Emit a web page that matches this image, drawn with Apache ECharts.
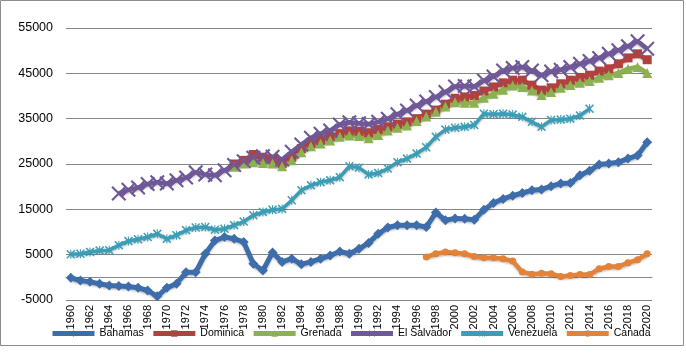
<!DOCTYPE html>
<html>
<head>
<meta charset="utf-8">
<script src="https://cdn.jsdelivr.net/npm/echarts@6/dist/echarts.min.js"></script>
<style>
  body { margin: 0; background: #fff; }
  #chart { width: 686px; height: 358px; }
</style>
</head>
<body>
<div id="chart"></div>
<script>
var firstYear = 1960;
var lastYear = 2020;
var years = [];
for (var y = firstYear; y <= lastYear; y++) years.push(String(y));

// values, each list starts at its first year
var bahamas = [-100, -700, -1000, -1400, -1800, -1900, -2000, -2300, -2900, -4200,
  -2300, -1400, 1100, 1100, 5200, 8100, 8900, 8500, 7800, 3000,
  1500, 5500, 3400, 4100, 2900, 3400, 4100, 4800, 5700, 5200,
  6300, 7600, 9600, 11000, 11500, 11500, 11500, 11100, 14300, 12600,
  13000, 12900, 12700, 14900, 16400, 17300, 18000, 18600, 19200, 19400,
  20100, 20700, 20800, 22500, 23500, 24900, 25100, 25400, 26200, 26900, 29800];
var dominica = [25000, 25800, 27100,
  26500, 26000, 25100, 26500, 28400, 29500, 30200, 31000, 31700, 32300,
  32200, 31900, 32600, 33200, 33800, 34300, 35000, 36000, 36900, 38200,
  39500, 39800, 40100, 41100, 42000, 42900, 43500, 43500, 42400, 41300,
  41800, 42700, 43500, 44100, 44600, 45500, 46000, 47100, 48400, 49300, 48000];
var grenada = [24400, 25100, 25400,
  25200, 25100, 24500, 25800, 27600, 28900, 29500, 30200, 31000, 31300,
  31200, 30700, 31400, 32400, 33000, 33500, 34500, 35500, 36500, 37700,
  38600, 38500, 38500, 39600, 40500, 41400, 42300, 42000, 41200, 40200,
  40900, 41800, 42400, 42900, 43300, 44000, 44600, 45100, 46000, 46400, 45100];
var elSalvador = [18500, 19300, 19800, 20600, 21000,
  20700, 21400, 22000, 23200, 22700, 22500, 23600, 24800, 25600, 26400,
  26700, 26600, 26000, 27700, 29300, 30800, 31700, 32400, 33700, 34200,
  34000, 33800, 34300, 35000, 36000, 36800, 37900, 38800, 39800, 40900,
  42100, 42200, 42100, 43400, 44300, 45600, 46200, 46400, 45600, 44600,
  45400, 45800, 46400, 47100, 47700, 48400, 49300, 50100, 51000, 52100, 50400];
var venezuela = [5100, 5200, 5600, 5900, 6000, 7100, 8000, 8400, 8900, 9600,
  8500, 9300, 10400, 11000, 11100, 10500, 10700, 11500, 12300, 13700,
  14400, 14900, 15100, 17000, 19200, 20300, 21000, 21400, 22100, 24500,
  24200, 22700, 23000, 24000, 25400, 26200, 27300, 28700, 31000, 32600,
  33000, 33200, 33600, 36100, 36000, 36100, 35900, 35400, 34300, 33200,
  34700, 34800, 35000, 35700, 37200];
var canada = [4500, 5200, 5600,
  5400, 5200, 4600, 4300, 4300, 4100, 3600, 1200, 700, 900,
  800, 200, 400, 600, 600, 1900, 2400, 2400, 3200, 3900, 5200];

var yTicks = { min: -5000, max: 55000, step: 10000 };

function onYears(start, vals) {
  var out = [];
  for (var i = firstYear; i <= lastYear; i++) {
    var k = i - start;
    out.push(k >= 0 && k < vals.length ? vals[k] : null);
  }
  return out;
}

var xMark = 'path://M0,1L1,0L5,4L9,0L10,1L6,5L10,9L9,10L5,6L1,10L0,9L4,5Z';
var starMark = 'path://M0,1.2L1.2,0L5,3.8L8.8,0L10,1.2L6.2,5L10,8.8L8.8,10L5,6.2L1.2,10L0,8.8L3.8,5Z M4.4,0L5.6,0L5.6,10L4.4,10Z';

function line(name, data, color, symbol, size, width) {
  return {
    name: name,
    type: 'line',
    data: data,
    symbol: symbol,
    symbolSize: size,
    showAllSymbol: true,
    connectNulls: false,
    lineStyle: { color: color, width: width, shadowColor: 'rgba(0,0,0,0.25)', shadowBlur: 2, shadowOffsetY: 1.5 },
    itemStyle: { color: color },
    emphasis: { disabled: true }
  };
}

var chart = echarts.init(document.getElementById('chart'));

var option = {
  animation: false,
  textStyle: { fontFamily: 'Liberation Sans' },
  grid: { left: 66, right: 34, top: 28, bottom: 58 },
  graphic: [{
    type: 'rect',
    shape: { x: 0.5, y: 0.5, width: 683, height: 345 },
    style: { fill: 'none', stroke: '#8c8c8c', lineWidth: 1 },
    silent: true
  }],
  legend: {
    top: 323,
    left: 45,
    itemWidth: 42,
    itemHeight: 8,
    itemGap: 7,
    lineStyle: { width: 5 },
    textStyle: { fontSize: 10.5, color: '#000', fontFamily: 'Liberation Sans' },
    data: ['Bahamas', 'Dominica', 'Grenada', 'El Salvador', 'Venezuela', 'Canada']
  },
  xAxis: {
    type: 'category',
    data: years,
    boundaryGap: true,
    axisLine: { onZero: true, lineStyle: { color: '#868686', width: 1 } },
    axisTick: { show: false },
    axisLabel: { rotate: 90, interval: 1, fontSize: 11, color: '#000', margin: 5 }
  },
  yAxis: {
    type: 'value',
    min: yTicks.min,
    max: yTicks.max,
    interval: yTicks.step,
    axisLine: { show: false },
    axisTick: { show: false },
    axisLabel: { fontSize: 12.5, color: '#000', margin: 13, formatter: function (v) { return String(v); } },
    splitLine: { lineStyle: { color: '#868686', width: 1 } }
  },
  series: [
    line('Bahamas', onYears(1960, bahamas), '#3d6dab', 'diamond', 10, 5),
    line('Dominica', onYears(1977, dominica), '#b0413e', 'rect', 9, 4.5),
    line('Grenada', onYears(1977, grenada), '#8cb150', 'triangle', 10, 4.5),
    line('El Salvador', onYears(1965, elSalvador), '#6f5898', xMark, 15, 4.5),
    line('Venezuela', onYears(1960, venezuela), '#3b9db6', starMark, 9, 3.5),
    line('Canada', onYears(1997, canada), '#e4823a', 'circle', 7, 4.5)
  ]
};

chart.setOption(option);
</script>
</body>
</html>
